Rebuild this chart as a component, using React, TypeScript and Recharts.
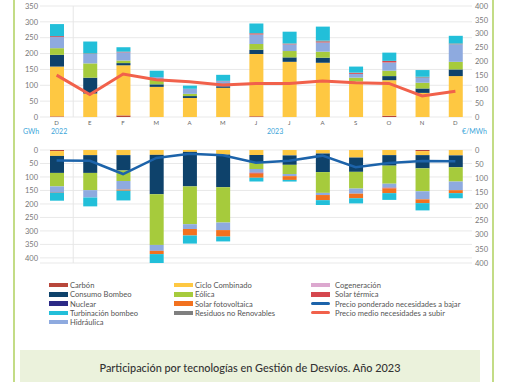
import React from 'react'
import { ComposedChart, Bar, Line, XAxis, YAxis, CartesianGrid, ReferenceLine } from 'recharts'

// categories: Dec 2022 + Jan..Dec 2023
const categoryKeys = ['D22', 'E23', 'F23', 'Mr23', 'Ab23', 'My23', 'Jn23', 'Jl23', 'Ag23', 'S23', 'O23', 'N23', 'D23']
const monthLabels = ['D', 'E', 'F', 'M', 'A', 'M', 'J', 'J', 'A', 'S', 'O', 'N', 'D']
const leftTicksUp = [0, 50, 100, 150, 200, 250, 300, 350]
const rightTicks = [0, 50, 100, 150, 200, 250, 300, 350, 400]

// necesidades a subir (GWh)
const upCarbon = [2, 0, 5, 0, 0, 0, 2, 0, 0, 0, 4, 0, 0]
const upCiclo = [157, 74, 158, 95, 60, 92, 197, 174, 171, 112, 112, 76, 129]
const upBombeo = [37, 50, 7, 8, 6, 5, 13, 14, 16, 0, 13, 14, 21]
const upEolica = [21, 45, 8, 15, 7, 0, 18, 20, 19, 12, 17, 18, 24]
const upHidraulica = [35, 30, 26, 8, 16, 16, 30, 21, 29, 12, 26, 16, 55]
const upSolarTermica = [3, 0, 2, 0, 0, 1, 3, 2, 3, 3, 5, 0, 0]
const upSolarFV = [0, 0, 0, 0, 0, 0, 0, 0, 0, 0, 0, 0, 0]
const upResiduos = [0, 2, 0, 0, 0, 0, 2, 1, 3, 1, 0, 3, 3]
const upTurbinacion = [38, 37, 14, 20, 10, 19, 30, 37, 44, 19, 26, 21, 24]
const precioSubir = [151, 81, 155, 134, 127, 115, 121, 121, 130, 123, 121, 76, 93]

// necesidades a bajar (GWh)
const downCarbon = [4, 0, 0, 0, 0, 0, 0, 0, 0, 0, 0, 4, 0]
const downCiclo = [18, 19, 19, 18, 7, 17, 19, 20, 13, 28, 19, 15, 20]
const downBombeo = [63, 66, 57, 146, 128, 121, 27, 35, 69, 53, 39, 49, 44]
const downEolica = [50, 64, 39, 188, 140, 131, 24, 34, 77, 62, 67, 85, 53]
const downHidraulica = [21, 27, 32, 22, 18, 28, 14, 8, 8, 19, 15, 30, 32]
const downSolarTermica = [2, 0, 0, 0, 0, 0, 4, 0, 0, 0, 3, 0, 0]
const downSolarFV = [0, 0, 4, 12, 24, 24, 15, 14, 19, 17, 17, 14, 11]
const downResiduos = [0, 0, 0, 0, 0, 0, 0, 0, 0, 0, 0, 0, 0]
const downTurbinacion = [30, 33, 36, 33, 30, 18, 14, 6, 18, 19, 25, 27, 19]
const precioBajar = [37, 38, 85, 28, 13, 19, 45, 38, 20, 61, 46, 39, 40]

const C = {
  carbon: '#b8473b',
  bombeo: '#0e426b',
  nuclear: '#2c2a86',
  turbinacion: '#22bfd9',
  hidraulica: '#8eaadf',
  ciclo: '#fec842',
  eolica: '#a6cb3c',
  solarFV: '#f2711f',
  residuos: '#7f7f7f',
  cogeneracion: '#dca8cf',
  solarTermica: '#d5474e',
  bajar: '#1c63aa',
  subir: '#f1614b',
}

const upData = categoryKeys.map((k, i) => ({
  key: k,
  carbon: upCarbon[i],
  ciclo: upCiclo[i],
  bombeo: upBombeo[i],
  eolica: upEolica[i],
  hidraulica: upHidraulica[i],
  solarTermica: upSolarTermica[i],
  solarFV: upSolarFV[i],
  residuos: upResiduos[i],
  turbinacion: upTurbinacion[i],
  precio: precioSubir[i],
}))

const downData = categoryKeys.map((k, i) => ({
  key: k,
  carbon: downCarbon[i],
  ciclo: downCiclo[i],
  bombeo: downBombeo[i],
  eolica: downEolica[i],
  hidraulica: downHidraulica[i],
  solarTermica: downSolarTermica[i],
  solarFV: downSolarFV[i],
  residuos: downResiduos[i],
  turbinacion: downTurbinacion[i],
  precio: precioBajar[i],
}))

const stackKeys = ['carbon', 'ciclo', 'bombeo', 'eolica', 'hidraulica', 'solarTermica', 'solarFV', 'residuos', 'turbinacion']

const legendItems = [
  { label: 'Carbón', color: C.carbon, line: false, col: 0, row: 0 },
  { label: 'Consumo Bombeo', color: C.bombeo, line: false, col: 0, row: 1 },
  { label: 'Nuclear', color: C.nuclear, line: false, col: 0, row: 2 },
  { label: 'Turbinación bombeo', color: C.turbinacion, line: false, col: 0, row: 3 },
  { label: 'Hidráulica', color: C.hidraulica, line: false, col: 0, row: 4 },
  { label: 'Ciclo Combinado', color: C.ciclo, line: false, col: 1, row: 0 },
  { label: 'Eólica', color: C.eolica, line: false, col: 1, row: 1 },
  { label: 'Solar fotovoltaica', color: C.solarFV, line: false, col: 1, row: 2 },
  { label: 'Residuos no Renovables', color: C.residuos, line: false, col: 1, row: 3 },
  { label: 'Cogeneración', color: C.cogeneracion, line: false, col: 2, row: 0 },
  { label: 'Solar térmica', color: C.solarTermica, line: false, col: 2, row: 1 },
  { label: 'Precio ponderado necesidades a bajar', color: C.bajar, line: true, col: 2, row: 2 },
  { label: 'Precio medio necesidades a subir', color: C.subir, line: true, col: 2, row: 3 },
]
const legendColX = [49, 174, 311]

const tickStyle = { fontSize: 7.5, fill: '#777' }
const blue = '#3aa5d9'

const App = () => {
  return (
    <div
      style={{
        position: 'absolute',
        left: 0,
        top: 0,
        width: 510,
        height: 382,
        background: '#fff',
        overflow: 'hidden',
        fontFamily: 'Lato, "Open Sans", sans-serif',
      }}
    >
      {/* frame lines */}
      <div style={{ position: 'absolute', left: 13, top: 0, width: 2, height: 382, background: '#c3dc86' }} />
      <div style={{ position: 'absolute', left: 492, top: 0, width: 2, height: 382, background: '#c3dc86' }} />

      {/* upper: necesidades a subir */}
      <div style={{ position: 'absolute', left: 0, top: 0 }}>
        <ComposedChart width={510} height={135} data={upData} margin={{ top: 6, right: 8, bottom: 6, left: 10 }}>
          <CartesianGrid yAxisId="left" vertical={false} stroke="#e9e9e9" />
          <XAxis
            dataKey="key"
            interval={0}
            tickLine={false}
            axisLine={false}
            tickSize={0}
            tickMargin={4}
            height={12}
            tick={{ fontSize: 6, fill: '#666' }}
            tickFormatter={(_v: string, i: number) => monthLabels[i]}
          />
          <YAxis
            yAxisId="left"
            width={30}
            domain={[0, 350]}
            ticks={leftTicksUp}
            interval={0}
            tickLine={false}
            axisLine={false}
            tickSize={0}
            tickMargin={2}
            tick={tickStyle}
          />
          <YAxis
            yAxisId="right"
            orientation="right"
            width={30}
            domain={[0, 400]}
            ticks={rightTicks}
            interval={0}
            tickLine={false}
            axisLine={false}
            tickSize={0}
            tickMargin={3}
            tick={tickStyle}
          />
          <ReferenceLine yAxisId="left" x="E23" position="start" stroke="#e6e6e6" />
          {stackKeys.map(k => (
            <Bar key={k} yAxisId="left" dataKey={k} stackId="up" fill={(C as any)[k]} barSize={14} isAnimationActive={false} />
          ))}
          <Line yAxisId="right" dataKey="precio" stroke={C.subir} strokeWidth={3} dot={false} type="linear" isAnimationActive={false} />
        </ComposedChart>
      </div>

      {/* axis captions */}
      <div style={{ position: 'absolute', left: 23, top: 127, fontSize: 7, color: blue }}>GWh</div>
      <div style={{ position: 'absolute', left: 51, top: 127, fontSize: 7, color: blue }}>2022</div>
      <div style={{ position: 'absolute', left: 267, top: 127, fontSize: 7, color: blue }}>2023</div>
      <div style={{ position: 'absolute', left: 462, top: 127, fontSize: 7, color: blue }}>€/MWh</div>

      {/* lower: necesidades a bajar */}
      <div style={{ position: 'absolute', left: 0, top: 140 }}>
        <ComposedChart width={510} height={130} data={downData} margin={{ top: 10, right: 8, bottom: 7, left: 10 }}>
          <CartesianGrid yAxisId="left" vertical={false} stroke="#e9e9e9" />
          <XAxis dataKey="key" hide />
          <YAxis
            yAxisId="left"
            width={30}
            reversed
            domain={[0, 400]}
            ticks={rightTicks}
            interval={0}
            tickLine={false}
            axisLine={false}
            tickSize={0}
            tickMargin={2}
            tick={tickStyle}
          />
          <YAxis
            yAxisId="right"
            orientation="right"
            reversed
            width={30}
            domain={[0, 400]}
            ticks={rightTicks}
            interval={0}
            tickLine={false}
            axisLine={false}
            tickSize={0}
            tickMargin={3}
            tick={tickStyle}
          />
          <ReferenceLine yAxisId="left" x="E23" position="start" stroke="#e6e6e6" />
          {stackKeys.map(k => (
            <Bar key={k} yAxisId="left" dataKey={k} stackId="down" fill={(C as any)[k]} barSize={14} isAnimationActive={false} />
          ))}
          <Line yAxisId="right" dataKey="precio" stroke={C.bajar} strokeWidth={2.5} dot={false} type="linear" isAnimationActive={false} />
        </ComposedChart>
      </div>

      {/* legend */}
      {legendItems.map(it => (
        <div
          key={it.label}
          style={{
            position: 'absolute',
            left: legendColX[it.col],
            top: 280 + it.row * 9.3,
            height: 10,
            display: 'flex',
            alignItems: 'center',
            fontSize: 7.6,
            color: '#555',
            whiteSpace: 'nowrap',
          }}
        >
          <span
            style={{
              display: 'inline-block',
              width: 19,
              height: it.line ? 3 : 4.5,
              borderRadius: it.line ? 2 : 0,
              background: it.color,
              marginRight: it.col === 2 ? 5 : 2,
            }}
          />
          {it.label}
        </div>
      ))}

      {/* title box */}
      <div
        style={{
          position: 'absolute',
          left: 20,
          top: 350,
          width: 460,
          height: 34,
          background: '#ebf2dc',
          display: 'flex',
          alignItems: 'center',
          justifyContent: 'center',
          fontSize: 10.9,
          fontWeight: 500,
          color: '#333',
        }}
      >
        Participación por tecnologías en Gestión de Desvíos. Año 2023
      </div>
    </div>
  )
}

export default App
